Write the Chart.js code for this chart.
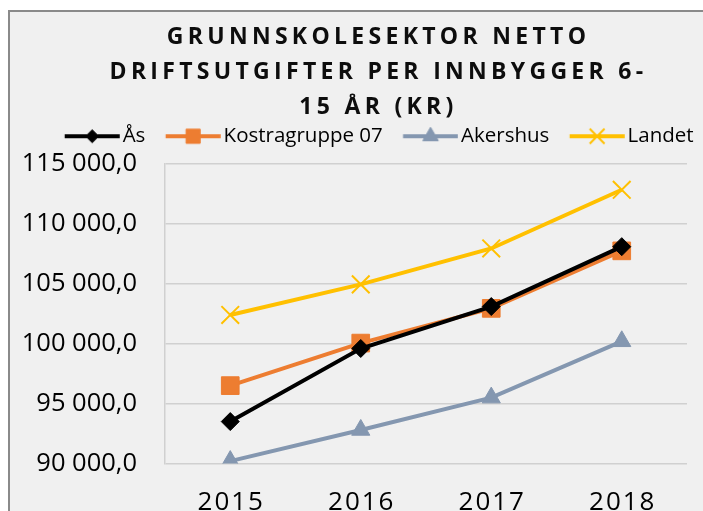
<!DOCTYPE html>
<html>
<head>
<meta charset="utf-8">
<script src="https://cdn.jsdelivr.net/npm/chart.js@4/dist/chart.umd.min.js"></script>
<style>
  html, body { margin: 0; padding: 0; background: #ffffff; overflow: hidden; }
  #wrap { position: absolute; left: 0; top: 0; width: 703px; height: 511px; }
</style>
</head>
<body>
<div id="wrap"><canvas id="c" width="703" height="511"></canvas></div>
<script>
const categories = ['2015', '2016', '2017', '2018'];
const asValues = [93500, 99600, 103100, 108100];
const kostraValues = [96500, 100050, 102950, 107750];
const akershusValues = [90200, 92800, 95500, 100200];
const landetValues = [102400, 104950, 107950, 112850];
const seriesNames = ['Ås', 'Kostragruppe 07', 'Akershus', 'Landet'];
const titleLines = ['GRUNNSKOLESEKTOR NETTO', 'DRIFTSUTGIFTER PER INNBYGGER 6-', '15 ÅR (KR)'];
const yMin = 90000, yMax = 115000, yStep = 5000;

const colors = ['#000000', '#ED7D31', '#8497B0', '#FFC000'];
const styles = ['rectRot', 'rect', 'triangle', 'crossRot'];
const radii = [9, 12.5, 10.5, 12.5];
const legendRadii = [6.5, 10, 9, 10.5];

const LEG_PAD = 15;          // legend padding
const LEG_FONT = 20.5;
const LEG_BW = 68 - LEG_PAD; // legend box width
const LINE_LEN = 55;

function fmt(v) {
  const s = Math.round(v).toString();
  return s.replace(/\B(?=(\d{3})+(?!\d))/g, ' ') + ',0';
}

function legendImage(i) {
  const lineEnd = LEG_BW + LEG_FONT / 2 - 3;
  const lineStart = lineEnd - LINE_LEN;
  const half = Math.max(LEG_BW / 2 - lineStart, lineEnd - LEG_BW / 2);
  const W = Math.ceil(half * 2);
  const off = LEG_BW / 2 - W / 2;
  const c = document.createElement('canvas');
  c.width = W; c.height = 24;
  const x = c.getContext('2d');
  x.strokeStyle = colors[i];
  x.fillStyle = colors[i];
  x.lineWidth = 4;
  x.beginPath(); x.moveTo(lineStart - off, 12); x.lineTo(lineEnd - off, 12); x.stroke();
  x.lineWidth = styles[i] === 'crossRot' ? 2 : 1;
  Chart.helpers.drawPoint(x, {pointStyle: styles[i], radius: legendRadii[i], rotation: 0, borderWidth: x.lineWidth},
    (lineStart + lineEnd) / 2 - off, 12);
  return c;
}

const bgPlugin = {
  id: 'bg',
  beforeDraw(chart) {
    const ctx = chart.ctx;
    ctx.save();
    ctx.fillStyle = '#ffffff';
    ctx.fillRect(0, 0, chart.width, chart.height);
    ctx.fillStyle = '#f0f0f0';
    ctx.fillRect(9, 11, chart.width, chart.height);
    ctx.strokeStyle = '#8a8a8a';
    ctx.lineWidth = 2;
    ctx.beginPath();
    ctx.moveTo(9, chart.height + 2); ctx.lineTo(9, 11); ctx.lineTo(chart.width + 2, 11);
    ctx.stroke();
    ctx.restore();
  }
};

const TITLE_DX = 30, TITLE_DY = 6.5, LEGEND_DX = 28, LEGEND_DY = -7.5;
const spacingPlugin = {
  id: 'spacing',
  afterUpdate(chart) {
    const tb = chart.titleBlock;
    if (tb && !tb._wrapped) {
      const orig = tb.draw;
      tb.draw = function () {
        const c = this.ctx; c.save(); c.letterSpacing = '4.3px'; c.translate(TITLE_DX, TITLE_DY);
        orig.apply(this, arguments); c.restore();
      };
      tb._wrapped = true;
    }
    const lg = chart.legend;
    if (lg && !lg._wrapped) {
      const orig = lg.draw;
      lg.draw = function () {
        const c = this.ctx; c.save(); c.translate(LEGEND_DX, LEGEND_DY);
        orig.apply(this, arguments); c.restore();
      };
      lg._wrapped = true;
    }
    const xs = chart.scales.x;
    if (xs && !xs._wrapped) {
      const orig = xs.drawLabels;
      xs.drawLabels = function () {
        const c = this.ctx; c.save(); c.letterSpacing = '2px'; c.translate(1, 0);
        orig.apply(this, arguments); c.restore();
      };
      xs._wrapped = true;
    }
  }
};

const valueSets = [asValues, kostraValues, akershusValues, landetValues];
const datasets = valueSets.map((vals, i) => ({
  label: seriesNames[i],
  data: vals,
  borderColor: colors[i],
  backgroundColor: colors[i],
  borderWidth: 4,
  pointStyle: styles[i],
  pointRadius: radii[i],
  pointBorderWidth: styles[i] === 'crossRot' ? 2 : 1,
  pointBackgroundColor: colors[i],
  pointBorderColor: colors[i],
  tension: 0,
  fill: false
}));

new Chart(document.getElementById('c'), {
  type: 'line',
  data: { labels: categories, datasets },
  options: {
    responsive: false,
    animation: false,
    layout: { padding: { left: 10, right: 16, top: 13.5, bottom: 0 } },
    plugins: {
      title: {
        display: true,
        text: titleLines,
        color: '#0d0d0d',
        font: { family: 'Open Sans', size: 23, weight: 'bold', lineHeight: 35 / 23 },
        padding: { top: 0, bottom: 0 }
      },
      legend: {
        display: true,
        position: 'top',
        labels: {
          color: '#000000',
          font: { family: 'Open Sans', size: LEG_FONT },
          usePointStyle: true,
          pointStyleWidth: LEG_BW,
          padding: LEG_PAD,
          generateLabels(chart) {
            return chart.data.datasets.map((ds, i) => ({
              text: ds.label,
              pointStyle: legendImage(i),
              fillStyle: colors[i],
              strokeStyle: colors[i],
              lineWidth: 0,
              hidden: false,
              datasetIndex: i
            }));
          }
        }
      },
      tooltip: { enabled: false }
    },
    scales: {
      x: {
        offset: true,
        grid: { display: false, drawTicks: false },
        border: { display: false },
        ticks: { color: '#000000', font: { family: 'Open Sans', size: 26 }, padding: 23 },
        afterFit(s) { s.height = 47.5; }
      },
      y: {
        min: yMin, max: yMax,
        grid: { color: '#d0d0d0', lineWidth: 1.5, drawTicks: false },
        border: { display: true, color: '#d0d0d0', width: 1.5 },
        ticks: { stepSize: yStep, color: '#000000', font: { family: 'Open Sans', size: 25.5 }, padding: 28, callback: (v) => fmt(v) },
        afterFit(s) { s.width = 155; }
      }
    }
  },
  plugins: [bgPlugin, spacingPlugin]
});
</script>
</body>
</html>
